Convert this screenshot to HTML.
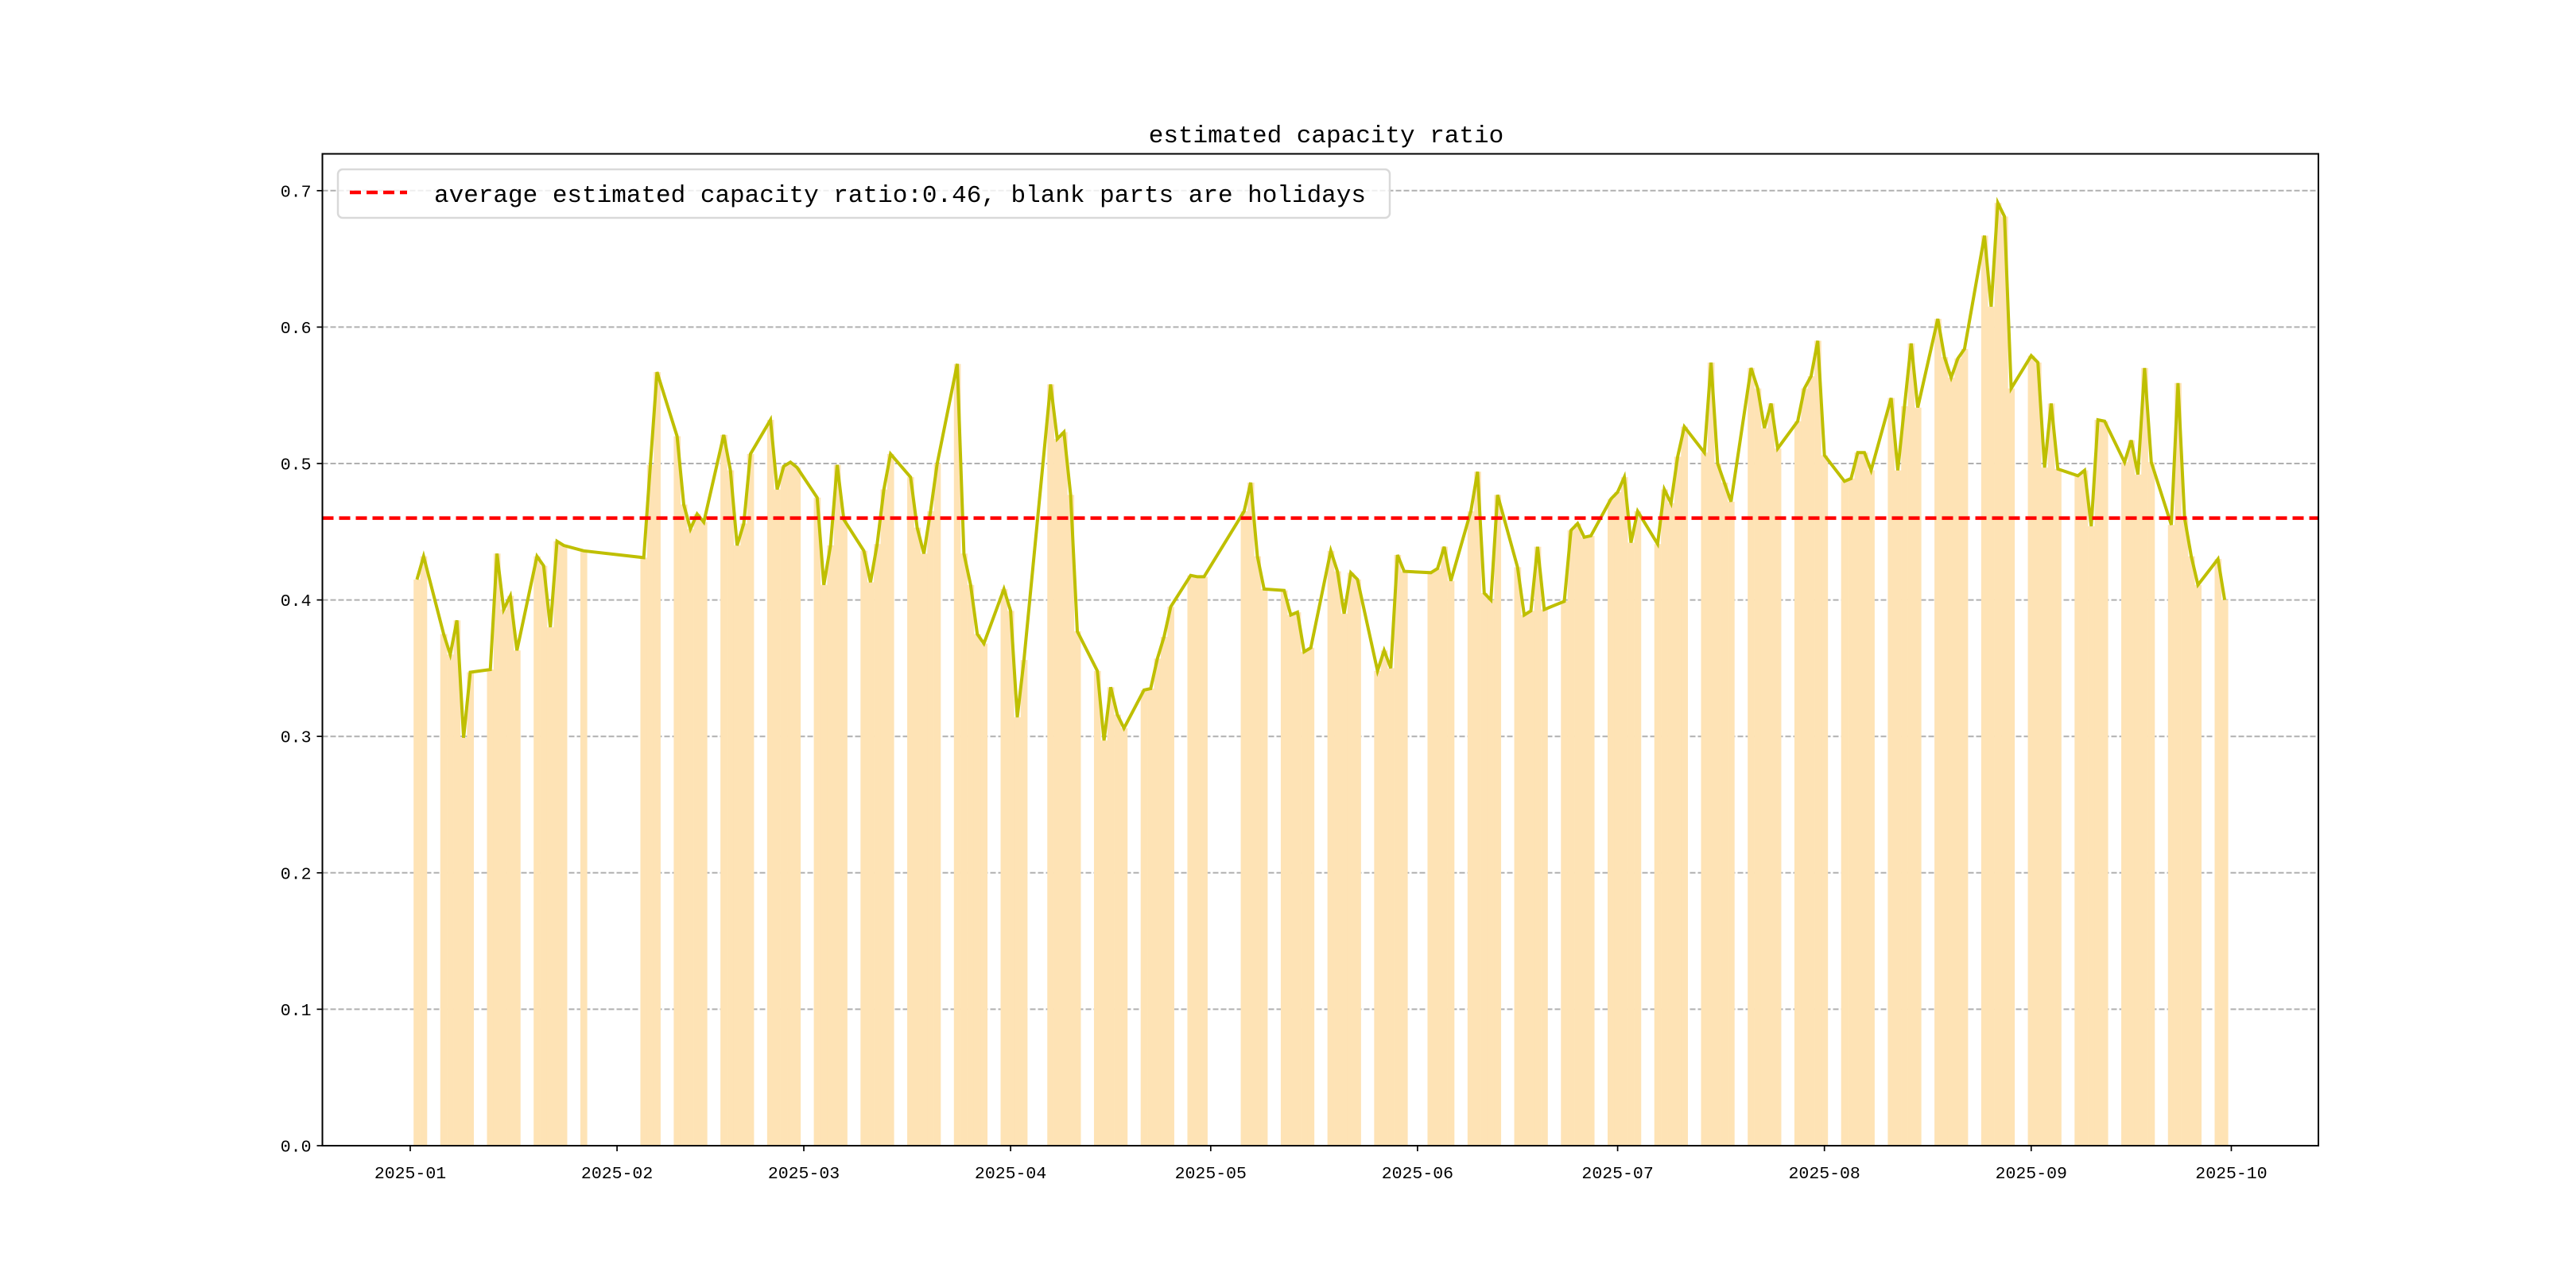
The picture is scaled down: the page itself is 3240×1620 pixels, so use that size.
<!DOCTYPE html>
<html><head><meta charset="utf-8">
<style>
html,body{margin:0;padding:0;background:#fff;}
svg{display:block;}
text{font-family:"Liberation Mono","Noto Sans CJK SC",monospace;fill:#000;}
</style></head>
<body>
<svg id="chart" width="3240" height="1620" viewBox="0 0 3240 1620" xmlns="http://www.w3.org/2000/svg">
<rect width="3240" height="1620" fill="#fff"/>
<text x="1668" y="179" font-size="31" text-anchor="middle">estimated capacity ratio</text>
<g id="grid"></g>
<g id="bars"></g>
<g id="lines"></g>
<g id="axes"></g>
<g>
<rect x="425" y="213" width="1323" height="61" rx="6" fill="#fff" fill-opacity="0.8" stroke="#d9d9d9" stroke-width="2.5"/>
<line x1="440" y1="242" x2="512" y2="242" stroke="#ff0000" stroke-width="4.5" stroke-dasharray="14,7"/>
<text x="546" y="254" font-size="31">average estimated capacity ratio:0.46, blank parts are holidays</text>
</g>
</svg>
<script>
const dates = ["01-02","01-03","01-06","01-07","01-08","01-09","01-10","01-13","01-14","01-15","01-16","01-17","01-20","01-21","01-22","01-23","01-24","01-27",
"02-05","02-06","02-07","02-10","02-11","02-12","02-13","02-14","02-17","02-18","02-19","02-20","02-21","02-24","02-25","02-26","02-27","02-28",
"03-03","03-04","03-05","03-06","03-07","03-10","03-11","03-12","03-13","03-14","03-17","03-18","03-19","03-20","03-21","03-24","03-25","03-26","03-27","03-28","03-31",
"04-01","04-02","04-03","04-07","04-08","04-09","04-10","04-11","04-14","04-15","04-16","04-17","04-18","04-21","04-22","04-23","04-24","04-25","04-28","04-29","04-30",
"05-06","05-07","05-08","05-09","05-12","05-13","05-14","05-15","05-16","05-19","05-20","05-21","05-22","05-23","05-26","05-27","05-28","05-29","05-30",
"06-03","06-04","06-05","06-06","06-09","06-10","06-11","06-12","06-13","06-16","06-17","06-18","06-19","06-20","06-23","06-24","06-25","06-26","06-27","06-30",
"07-01","07-02","07-03","07-04","07-07","07-08","07-09","07-10","07-11","07-14","07-15","07-16","07-17","07-18","07-21","07-22","07-23","07-24","07-25","07-28","07-29","07-30","07-31",
"08-01","08-04","08-05","08-06","08-07","08-08","08-11","08-12","08-13","08-14","08-15","08-18","08-19","08-20","08-21","08-22","08-25","08-26","08-27","08-28","08-29",
"09-01","09-02","09-03","09-04","09-05","09-08","09-09","09-10","09-11","09-12","09-15","09-16","09-17","09-18","09-19","09-22","09-23","09-24","09-25","09-26","09-29","09-30"];
const ratios = [0.415,0.432,0.375,0.36,0.385,0.299,0.347,0.349,0.434,0.393,0.403,0.363,0.432,0.425,0.38,0.443,0.44,0.436,
0.431,0.499,0.567,0.52,0.47,0.452,0.463,0.457,0.521,0.495,0.44,0.456,0.507,0.532,0.481,0.498,0.501,0.497,
0.475,0.411,0.44,0.499,0.459,0.436,0.413,0.441,0.481,0.507,0.49,0.453,0.434,0.465,0.5,0.573,0.434,0.411,0.375,0.368,0.408,
0.392,0.314,0.356,0.558,0.518,0.523,0.477,0.377,0.348,0.297,0.336,0.316,0.306,0.334,0.335,0.357,0.373,0.395,0.418,0.417,0.417,
0.465,0.486,0.432,0.408,0.407,0.389,0.391,0.362,0.365,0.436,0.421,0.39,0.42,0.415,0.348,0.363,0.35,0.433,0.421,
0.42,0.423,0.439,0.414,0.465,0.494,0.405,0.4,0.477,0.424,0.389,0.392,0.439,0.393,0.399,0.451,0.456,0.446,0.447,0.474,
0.479,0.49,0.442,0.465,0.441,0.481,0.471,0.505,0.527,0.508,0.574,0.5,0.486,0.472,0.57,0.555,0.526,0.544,0.511,0.531,0.555,0.564,0.59,
0.506,0.487,0.489,0.508,0.508,0.495,0.548,0.495,0.542,0.588,0.541,0.606,0.578,0.563,0.577,0.584,0.667,0.615,0.691,0.681,0.555,
0.579,0.574,0.497,0.544,0.496,0.491,0.495,0.454,0.532,0.531,0.501,0.517,0.492,0.57,0.501,0.455,0.559,0.46,0.432,0.411,0.43,0.40];
const averageRatio = [0.46];
const yTicks = [0,0.1,0.2,0.3,0.4,0.5,0.6,0.7];
const monthTicks = ["2025-01","2025-02","2025-03","2025-04","2025-05","2025-06","2025-07","2025-08","2025-09","2025-10"];

const NS="http://www.w3.org/2000/svg";
const L=405.5,R=2916,T=193.5,B=1441,X0=516,PPD=8.39,YS=1716;
function dayIdx(s){const p=s.split("-");const m=+p[0]-1,d=+p[1];return (Date.UTC(2025,m,d)-Date.UTC(2025,0,1))/86400000;}
function xPos(day){return X0+day*PPD;}
function yPos(v){return B-v*YS;}
function mk(tag,attrs,parent){const e=document.createElementNS(NS,tag);for(const k in attrs)e.setAttribute(k,attrs[k]);parent.appendChild(e);return e;}

const grid=document.getElementById("grid"),bars=document.getElementById("bars"),lines=document.getElementById("lines"),axes=document.getElementById("axes");
yTicks.forEach(v=>{
  if(v>0){const g=mk("line",{x1:L,x2:R,y1:yPos(v),y2:yPos(v),stroke:"#b0b0b0","stroke-width":2,"stroke-dasharray":"7,3"},grid);
  
  }
  const tk=mk("line",{x1:L-7,x2:L,y1:yPos(v),y2:yPos(v),stroke:"#000","stroke-width":1.7},axes);
  
  
  const t=mk("text",{x:L-14,y:yPos(v)+7.5,"font-size":21.5,"text-anchor":"end"},axes);
  
  
  t.textContent=v.toFixed(1);
});
dates.forEach((d,i)=>{
  const day=dayIdx(d);
  const r=mk("rect",{x:xPos(day-0.5),y:yPos(ratios[i]),width:PPD+0.3,height:B-yPos(ratios[i]),fill:"#fee3b5"},bars);
  
  
});
const pts=dates.map((d,i)=>xPos(dayIdx(d)).toFixed(1)+","+yPos(ratios[i]).toFixed(1)).join(" ");
const pl=mk("polyline",{points:pts,fill:"none",stroke:"#bfbf00","stroke-width":4,"stroke-linejoin":"miter"},lines);


const av=mk("line",{x1:L,x2:R,y1:yPos(averageRatio[0]),y2:yPos(averageRatio[0]),stroke:"#ff0000","stroke-width":4.5,"stroke-dasharray":"14,7"},lines);


monthTicks.forEach(m=>{
  const p=m.split("-");const day=(Date.UTC(+p[0],+p[1]-1,1)-Date.UTC(2025,0,1))/86400000;
  const x=xPos(day);
  const tk=mk("line",{x1:x,x2:x,y1:B,y2:B+7,stroke:"#000","stroke-width":1.7},axes);
  
  
  const t=mk("text",{x:x,y:B+41,"font-size":21.5,"text-anchor":"middle"},axes);
  
  
  t.textContent=m;
});
const frame=mk("rect",{x:L,y:T,width:R-L,height:B-T,fill:"none",stroke:"#000","stroke-width":2},axes);


</script>
</body></html>
